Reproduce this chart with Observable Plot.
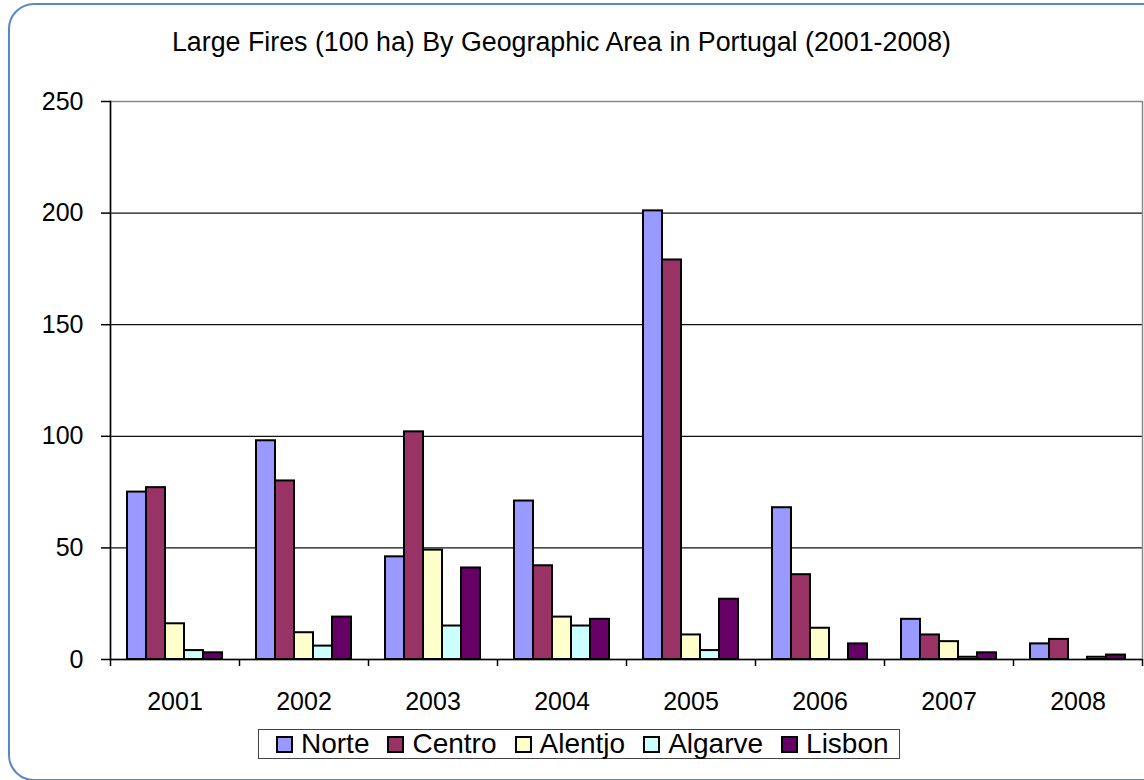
<!DOCTYPE html>
<html>
<head>
<meta charset="utf-8">
<script src="https://cdn.jsdelivr.net/npm/d3@7"></script>
<script src="https://cdn.jsdelivr.net/npm/@observablehq/plot@0.6"></script>
<style>
  html, body { margin: 0; padding: 0; background: #fff; }
  body { width: 1144px; height: 780px; overflow: hidden; position: relative; font-family: "Liberation Sans", Arial, sans-serif; }
  #title { height: 80px; box-sizing: border-box; padding-top: 26px; line-height: 32px; font-size: 26.8px; text-align: center; width: 1123px; color: #000; }
  #legend { position: absolute; left: 258px; top: 729px; width: 642px; height: 30px; box-sizing: border-box; border: 1.5px solid #444; display: flex; align-items: center; padding: 0 0 0 17px; background: #fff; }
  .item { display: flex; align-items: center; margin-right: 18px; font-size: 28px; line-height: 28px; }
  .item:last-child { margin-right: 0; }
  .sw { width: 13px; height: 13px; border: 2px solid #000; margin-right: 8px; }
  #frame { position: absolute; left: 8px; top: 3px; width: 1160px; height: 778px; box-sizing: border-box; border: 2.5px solid #5b87c6; border-radius: 26px; pointer-events: none; }
</style>
</head>
<body>
<div id="title">Large Fires (100 ha) By Geographic Area in Portugal (2001-2008)</div>
<div id="chart"></div>
<div id="legend"></div>
<div id="frame"></div>
<script>
const years = ["2001", "2002", "2003", "2004", "2005", "2006", "2007", "2008"];
const regions = ["Norte", "Centro", "Alentjo", "Algarve", "Lisbon"];
const colors = ["#9999ff", "#993366", "#ffffcc", "#ccffff", "#660066"];
const norte   = [75, 98, 46, 71, 201, 68, 18, 7];
const centro  = [77, 80, 102, 42, 179, 38, 11, 9];
const alentjo = [16, 12, 49, 19, 11, 14, 8, 0];
const algarve = [4, 6, 15, 15, 4, 0, 1, 1];
const lisbon  = [3, 19, 41, 18, 27, 7, 3, 2];
const yTicks = [0, 50, 100, 150, 200, 250];

const series = [norte, centro, alentjo, algarve, lisbon];
const data = [];
years.forEach((yr, i) => {
  regions.forEach((r, j) => {
    data.push({year: yr, region: r, value: series[j][i]});
  });
});

const plot = Plot.plot({
  width: 1144,
  height: 640,
  marginTop: 21,
  marginBottom: 61,
  marginLeft: 110,
  marginRight: 2,
  style: {background: "transparent", fontFamily: "'Liberation Sans', Arial, sans-serif", color: "#000"},
  fx: {domain: years, padding: 0, label: null},
  x: {domain: regions, paddingInner: 0, paddingOuter: 0.825, axis: null},
  y: {domain: [0, 250], label: null},
  color: {domain: regions, range: colors},
  marks: [
    Plot.ruleY(yTicks, {stroke: "#111", strokeWidth: 1.2}),
    Plot.frame({facet: "super", stroke: "#888", strokeWidth: 1.5}),
    Plot.barY(data.filter(d => d.value > 0), {fx: "year", x: "region", y: "value", fill: "region", stroke: "#000", strokeWidth: 2}),
    Plot.ruleY([0], {stroke: "#000", strokeWidth: 1.5}),
    Plot.frame({facet: "super", anchor: "left", stroke: "#000", strokeWidth: 1.5}),
    Plot.axisY({ticks: yTicks, tickSize: 9, tickPadding: 18, fontSize: 25, label: null, stroke: "#000", strokeWidth: 1.5}),
    Plot.axisFx({anchor: "bottom", tickSize: 0, tickPadding: 33, fontSize: 25, label: null}),
    Plot.axisFx({anchor: "bottom", tickSize: 7, dx: -64.5, text: null, label: null, stroke: "#000", strokeWidth: 1.5}),
    Plot.axisFx({anchor: "bottom", ticks: ["2008"], tickSize: 7, dx: 64.5, text: null, label: null, stroke: "#000", strokeWidth: 1.5})
  ]
});
document.getElementById("chart").appendChild(plot);

const legend = document.getElementById("legend");
regions.forEach((r, j) => {
  const it = document.createElement("div");
  it.className = "item";
  const sw = document.createElement("div");
  sw.className = "sw";
  sw.style.background = colors[j];
  const tx = document.createElement("span");
  tx.textContent = r;
  it.appendChild(sw);
  it.appendChild(tx);
  legend.appendChild(it);
});
</script>
</body>
</html>
